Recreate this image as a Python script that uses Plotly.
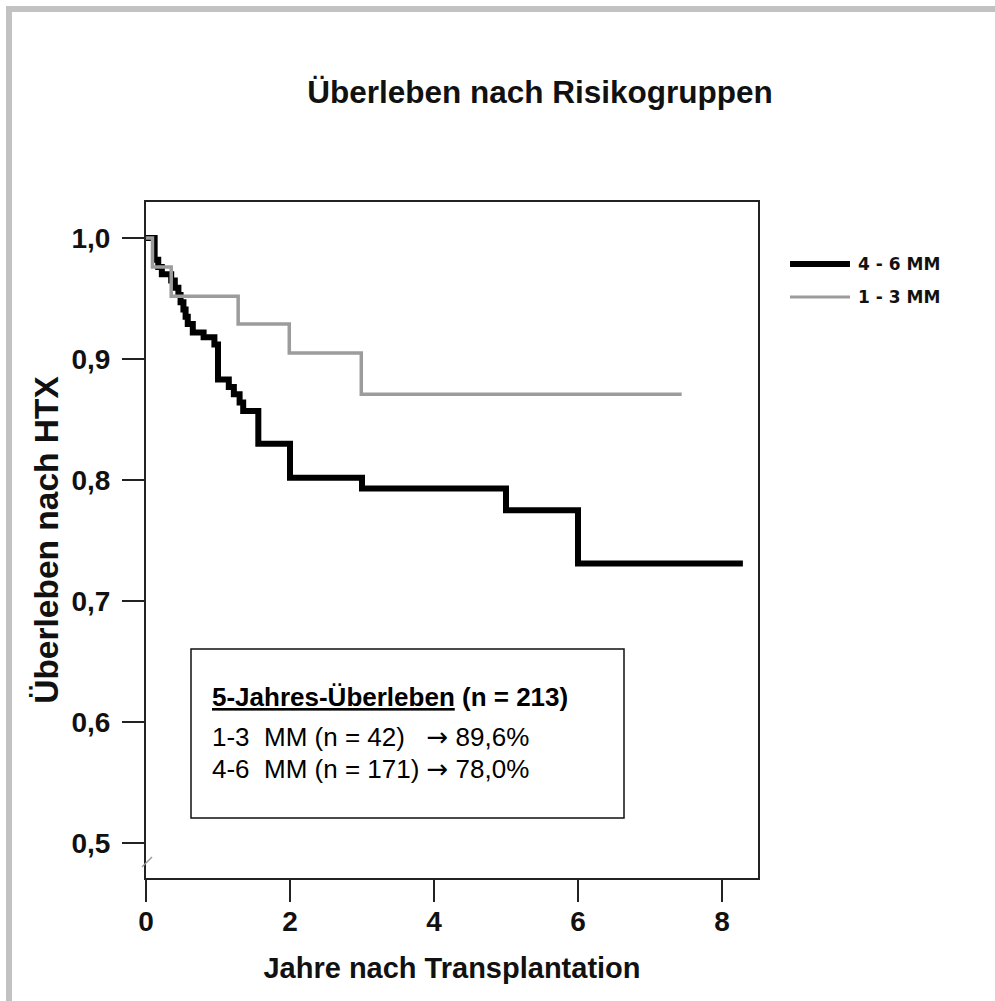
import plotly.graph_objects as go

# Kaplan-Meier survival
t_high = [0, 0.12, 0.17, 0.22, 0.35, 0.40, 0.45, 0.48, 0.52, 0.55, 0.58, 0.65, 0.80, 0.95, 1.00,
          1.15, 1.22, 1.30, 1.35, 1.56, 2.00, 3.00, 5.00, 6.00, 8.29]
s_high = [1.0, 0.982, 0.976, 0.970, 0.965, 0.959, 0.953, 0.947, 0.941, 0.935, 0.929, 0.922, 0.918,
          0.912, 0.883, 0.877, 0.871, 0.864, 0.857, 0.830, 0.802, 0.793, 0.775, 0.731, 0.731]
t_low = [0, 0.09, 0.35, 1.28, 1.99, 2.99, 7.44]
s_low = [1.0, 0.976, 0.952, 0.929, 0.905, 0.871, 0.871]

series_names = ["4 - 6 MM", "1 - 3 MM"]
x_ticks = [0, 2, 4, 6, 8]
y_ticks = [0.5, 0.6, 0.7, 0.8, 0.9, 1.0]

title_text = "Überleben nach Risikogruppen"
x_title = "Jahre nach Transplantation"
y_title = "Überleben nach HTX"
ARROW = "<span style='font-family:DejaVu Sans'>\u2192</span>"
box_lines = ["<u>5-Jahres-Überleben</u> (n = 213)",
             "1-3  MM (n = 42)   " + ARROW + " 89,6%",
             "4-6  MM (n = 171) " + ARROW + " 78,0%"]

W, H = 995, 1001
L, R, T, B = 146, 758, 202, 878


def px(x):
    return (x - L) / (R - L)


def py(y):
    return (B - y) / (B - T)


fig = go.Figure()
fig.add_trace(go.Scatter(x=t_high, y=s_high, mode="lines", line=dict(color="#000000", width=6, shape="hv"),
                         name=series_names[0], showlegend=False))
fig.add_trace(go.Scatter(x=t_low, y=s_low, mode="lines", line=dict(color="#9c9c9c", width=3.5, shape="hv"),
                         name=series_names[1], showlegend=False))

axis_font = dict(family="Liberation Sans", size=28, color="#111111", weight="bold")

fig.update_layout(
    width=W, height=H,
    margin=dict(l=L, r=W - R, t=T, b=H - B),
    paper_bgcolor="white", plot_bgcolor="white",
    separators=",.",
    title=dict(text=title_text, x=px(540), xref="paper", xanchor="center", y=1 - 92 / H, yanchor="middle",
               font=dict(family="Liberation Sans", size=31.5, color="#111111", weight="bold")),
    xaxis=dict(range=[0, 8.5], tickvals=x_ticks, ticks="outside", ticklen=22, tickwidth=2, tickcolor="#222",
               showline=True, linecolor="#222", linewidth=2, mirror=True, showgrid=False, zeroline=False,
               tickfont=axis_font, ticklabelstandoff=-5,
               title=dict(text=x_title, font=dict(family="Liberation Sans", size=29, color="#111111", weight="bold"),
                          standoff=22)),
    yaxis=dict(range=[0.4711, 1.0298], tickvals=y_ticks, tickformat=".1f", ticks="outside", ticklen=22,
               tickwidth=2, tickcolor="#222",
               showline=True, linecolor="#222", linewidth=2, mirror=True, showgrid=False, zeroline=False,
               tickfont=axis_font, ticklabelstandoff=6,
               title=dict(text=y_title, font=dict(family="Liberation Sans", size=33.5, color="#111111", weight="bold"),
                          standoff=3)),
)

shapes = []
# gray page frame (top and left)
shapes.append(dict(type="path", xref="paper", yref="paper",
                   path=f"M {px(9)},{py(1001)} L {px(9)},{py(9)} L {px(995)},{py(9)}",
                   line=dict(color="#c2c2c2", width=6)))
# axis break mark
shapes.append(dict(type="line", xref="paper", yref="paper", x0=px(142), y0=py(867), x1=px(152), y1=py(857),
                   line=dict(color="#999999", width=1.5)))
# text box
shapes.append(dict(type="rect", xref="paper", yref="paper", x0=px(191), x1=px(624), y0=py(818), y1=py(649),
                   line=dict(color="#111111", width=1.5), fillcolor="white", layer="above"))
# legend lines
shapes.append(dict(type="line", xref="paper", yref="paper", x0=px(790), x1=px(850), y0=py(264), y1=py(264),
                   line=dict(color="#000000", width=6)))
shapes.append(dict(type="line", xref="paper", yref="paper", x0=px(790), x1=px(850), y0=py(297), y1=py(297),
                   line=dict(color="#9c9c9c", width=3)))
fig.update_layout(shapes=shapes)

leg_font = dict(family="DejaVu Sans", size=17, color="#111111", weight="bold")
box_font = dict(family="Liberation Sans", size=26, color="#000000")
ann = []
ann.append(dict(text=series_names[0], xref="paper", yref="paper", x=px(856), y=py(264), xanchor="left",
                yanchor="middle", showarrow=False, font=leg_font))
ann.append(dict(text=series_names[1], xref="paper", yref="paper", x=px(856), y=py(297), xanchor="left",
                yanchor="middle", showarrow=False, font=leg_font))
ann.append(dict(text="<b>" + box_lines[0] + "</b>", xref="paper", yref="paper", x=px(210), y=py(697),
                xanchor="left", yanchor="middle", showarrow=False, font=box_font))
ann.append(dict(text=box_lines[1], xref="paper", yref="paper", x=px(210), y=py(737),
                xanchor="left", yanchor="middle", showarrow=False, font=box_font))
ann.append(dict(text=box_lines[2], xref="paper", yref="paper", x=px(210), y=py(769),
                xanchor="left", yanchor="middle", showarrow=False, font=box_font))
fig.update_layout(annotations=ann)

fig.write_html("out.html")
